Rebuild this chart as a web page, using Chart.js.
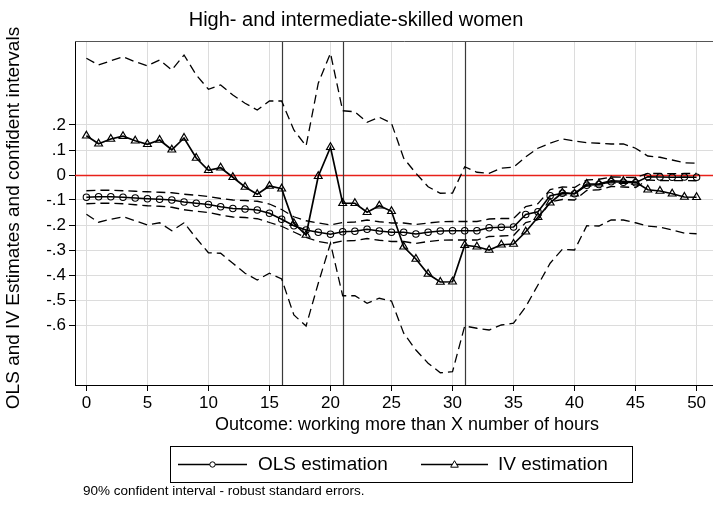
<!DOCTYPE html>
<html>
<head>
<meta charset="utf-8">
<script src="https://cdn.jsdelivr.net/npm/chart.js@4/dist/chart.umd.min.js"></script>
<style>
html,body{margin:0;padding:0;background:#fff;overflow:hidden;width:713px;height:506px;}
canvas{display:block;}
</style>
</head>
<body>
<canvas id="c" width="740" height="506"></canvas>
<script>
// ---- data ----
const hours = [0,1,2,3,4,5,6,7,8,9,10,11,12,13,14,15,16,17,18,19,20,21,22,23,24,25,26,27,28,29,30,31,32,33,34,35,36,37,38,39,40,41,42,43,44,45,46,47,48,49,50];
const olsEst = [-0.089,-0.087,-0.087,-0.089,-0.092,-0.095,-0.097,-0.100,-0.108,-0.113,-0.118,-0.127,-0.134,-0.136,-0.140,-0.153,-0.177,-0.203,-0.220,-0.229,-0.237,-0.227,-0.225,-0.217,-0.224,-0.229,-0.229,-0.236,-0.229,-0.224,-0.223,-0.223,-0.223,-0.211,-0.209,-0.208,-0.158,-0.147,-0.083,-0.073,-0.075,-0.041,-0.038,-0.027,-0.029,-0.031,-0.007,-0.008,-0.009,-0.008,-0.009];
const olsUpper = [-0.063,-0.061,-0.061,-0.063,-0.065,-0.067,-0.069,-0.071,-0.077,-0.081,-0.086,-0.094,-0.100,-0.102,-0.105,-0.116,-0.138,-0.167,-0.183,-0.192,-0.200,-0.190,-0.188,-0.180,-0.187,-0.192,-0.192,-0.198,-0.192,-0.187,-0.186,-0.186,-0.186,-0.176,-0.174,-0.174,-0.126,-0.115,-0.058,-0.048,-0.050,-0.020,-0.017,-0.008,-0.009,-0.010,0.006,0.006,0.005,0.006,0.006];
const olsLower = [-0.115,-0.113,-0.113,-0.115,-0.119,-0.123,-0.125,-0.129,-0.139,-0.145,-0.150,-0.160,-0.168,-0.170,-0.175,-0.190,-0.205,-0.228,-0.250,-0.266,-0.274,-0.264,-0.262,-0.254,-0.261,-0.266,-0.266,-0.274,-0.266,-0.261,-0.260,-0.260,-0.260,-0.246,-0.244,-0.242,-0.190,-0.179,-0.108,-0.098,-0.100,-0.062,-0.059,-0.046,-0.048,-0.050,-0.020,-0.022,-0.023,-0.022,-0.023];
const ivEst = [0.157,0.125,0.144,0.155,0.137,0.123,0.140,0.101,0.148,0.068,0.019,0.029,-0.009,-0.048,-0.077,-0.044,-0.055,-0.193,-0.240,-0.005,0.111,-0.113,-0.113,-0.149,-0.123,-0.145,-0.287,-0.336,-0.396,-0.428,-0.427,-0.281,-0.287,-0.300,-0.279,-0.276,-0.227,-0.169,-0.111,-0.071,-0.075,-0.036,-0.035,-0.023,-0.025,-0.028,-0.059,-0.064,-0.075,-0.088,-0.089];
const ivUpper = [0.467,0.440,0.457,0.473,0.453,0.437,0.460,0.420,0.480,0.400,0.343,0.360,0.320,0.287,0.260,0.296,0.296,0.180,0.116,0.367,0.487,0.257,0.253,0.211,0.231,0.207,0.067,0.007,-0.047,-0.073,-0.072,0.033,0.011,0.007,0.027,0.031,0.073,0.107,0.127,0.144,0.136,0.129,0.127,0.124,0.124,0.107,0.076,0.071,0.060,0.049,0.047];
const ivLower = [-0.157,-0.189,-0.177,-0.167,-0.183,-0.200,-0.191,-0.223,-0.191,-0.253,-0.311,-0.313,-0.353,-0.393,-0.420,-0.393,-0.416,-0.560,-0.604,-0.433,-0.273,-0.483,-0.483,-0.513,-0.493,-0.504,-0.633,-0.700,-0.753,-0.791,-0.787,-0.604,-0.613,-0.620,-0.600,-0.593,-0.527,-0.440,-0.353,-0.297,-0.300,-0.203,-0.204,-0.180,-0.180,-0.191,-0.204,-0.209,-0.220,-0.233,-0.235];
const xTicks = [0,5,10,15,20,25,30,35,40,45,50];
const yTicks = [-0.6,-0.5,-0.4,-0.3,-0.2,-0.1,0,0.1,0.2];
const vLines = [16,21,31];
const hLine = 0;
const titleText = 'High- and intermediate-skilled women';
const xTitle = 'Outcome: working more than X number of hours';
const yTitle = 'OLS and IV Estimates and confident intervals';
const legendLabels = ['OLS estimation','IV estimation'];
const noteText = '90% confident interval - robust standard errors.';

const FONT = "'Liberation Sans', Arial, Helvetica, sans-serif";
const pts = arr => hours.map((h,i)=>({x:h,y:arr[i]}));
const dash = [9,5];

const refLines = {
  id:'refLines',
  beforeDatasetsDraw(chart){
    const {ctx, chartArea:a, scales:{x,y}} = chart;
    ctx.save();
    ctx.beginPath(); ctx.rect(a.left,a.top,a.right-a.left,a.bottom-a.top); ctx.clip();
    ctx.strokeStyle='#e8211a'; ctx.lineWidth=1.5;
    const yp = Math.round(y.getPixelForValue(hLine))+0.5;
    ctx.beginPath(); ctx.moveTo(a.left,yp); ctx.lineTo(a.right,yp); ctx.stroke();
    ctx.strokeStyle='#3a3a3a'; ctx.lineWidth=1.2;
    vLines.forEach(v=>{
      const xp = Math.round(x.getPixelForValue(v))+0.5;
      ctx.beginPath(); ctx.moveTo(xp,a.top); ctx.lineTo(xp,a.bottom); ctx.stroke();
    });
    ctx.restore();
  },
  afterDraw(chart){
    const {ctx, chartArea:a} = chart;
    ctx.save();
    // top frame
    ctx.strokeStyle='#555'; ctx.lineWidth=1;
    ctx.beginPath(); ctx.moveTo(a.left, a.top+0.5); ctx.lineTo(a.right, a.top+0.5); ctx.stroke();
    ctx.fillStyle='#000'; ctx.textAlign='center'; ctx.textBaseline='middle';
    // title
    ctx.font = "20px "+FONT;
    ctx.fillText(titleText, 356, 20);
    // x title
    ctx.font = "18px "+FONT;
    ctx.fillText(xTitle, 407, 425);
    // y title
    ctx.save();
    ctx.font = "19px "+FONT;
    ctx.translate(14, 218); ctx.rotate(-Math.PI/2);
    ctx.fillText(yTitle, 0, 0);
    ctx.restore();
    // legend
    const ly = 464.5;
    ctx.strokeStyle='#000'; ctx.lineWidth=1;
    ctx.strokeRect(170.5, 446.5, 462, 36);
    ctx.lineWidth=1.5;
    ctx.beginPath(); ctx.moveTo(178, ly); ctx.lineTo(247, ly); ctx.stroke();
    ctx.lineWidth=1;
    ctx.beginPath(); ctx.arc(212.5, ly, 2.7, 0, Math.PI*2); ctx.fillStyle='#fff'; ctx.fill(); ctx.stroke();
    ctx.lineWidth=1.5;
    ctx.beginPath(); ctx.moveTo(421, ly); ctx.lineTo(488, ly); ctx.stroke();
    ctx.lineWidth=1;
    const tx = 454.5;
    ctx.beginPath(); ctx.moveTo(tx, ly-3.8); ctx.lineTo(tx+3.8, ly+2.7); ctx.lineTo(tx-3.8, ly+2.7); ctx.closePath(); ctx.fillStyle='#fff'; ctx.fill(); ctx.stroke();
    ctx.fillStyle='#000'; ctx.textAlign='left'; ctx.font="19px "+FONT;
    ctx.fillText(legendLabels[0], 258, ly);
    ctx.fillText(legendLabels[1], 498, ly);
    // note
    ctx.font = "13.5px "+FONT;
    ctx.fillText(noteText, 83, 491);
    ctx.restore();
  }
};

new Chart(document.getElementById('c'), {
  type:'line',
  data:{
    datasets:[
      {label:legendLabels[0], data:pts(olsEst), borderColor:'#000', borderWidth:1.6, pointStyle:'circle', pointRadius:3.2, pointBorderWidth:1.1, pointBorderColor:'#000', pointBackgroundColor:'rgba(255,255,255,0)'},
      {label:legendLabels[1], data:pts(ivEst), borderColor:'#000', borderWidth:1.7, pointStyle:'triangle', pointRadius:4.5, pointBorderWidth:1.2, pointBorderColor:'#000', pointBackgroundColor:'rgba(255,255,255,0)'},
      {label:'OLS upper', data:pts(olsUpper), borderColor:'#000', borderWidth:1.3, borderDash:dash, pointRadius:0},
      {label:'OLS lower', data:pts(olsLower), borderColor:'#000', borderWidth:1.3, borderDash:dash, pointRadius:0},
      {label:'IV upper', data:pts(ivUpper), borderColor:'#000', borderWidth:1.3, borderDash:dash, pointRadius:0},
      {label:'IV lower', data:pts(ivLower), borderColor:'#000', borderWidth:1.3, borderDash:dash, pointRadius:0}
    ]
  },
  options:{
    responsive:false, animation:false, devicePixelRatio:1,
    layout:{padding:{top:41,bottom:71,left:0,right:0}},
    plugins:{legend:{display:false}, title:{display:false}, tooltip:{enabled:false}},
    elements:{line:{tension:0}},
    scales:{
      x:{
        type:'linear', min:-0.934, max:53.09,
        afterBuildTicks(s){ s.ticks = xTicks.map(v=>({value:v})); },
        afterFit(s){ s.height = 50; },
        grid:{color:'#dcdcdc', lineWidth:1, tickColor:'#000', tickLength:6, drawTicks:true},
        border:{color:'#000', width:1},
        ticks:{color:'#000', font:{family:FONT, size:17}, padding:2, maxRotation:0, autoSkip:false, callback:v=>String(v)},
        title:{display:false}
      },
      y:{
        type:'linear', min:-0.84, max:0.536,
        afterBuildTicks(s){ s.ticks = yTicks.map(v=>({value:v})); },
        afterFit(s){ s.width = 75; },
        grid:{color:'#dcdcdc', lineWidth:1, tickColor:'#000', tickLength:6, drawTicks:true},
        border:{color:'#000', width:1},
        ticks:{color:'#000', font:{family:FONT, size:17}, padding:3, autoSkip:false,
          callback:v=>{ const r=Math.round(v*10)/10; if(r===0) return '0'; return (r<0?'-':'')+Math.abs(r).toFixed(1).replace(/^0/,''); }},
        title:{display:false}
      }
    }
  },
  plugins:[refLines]
});
</script>
</body>
</html>
